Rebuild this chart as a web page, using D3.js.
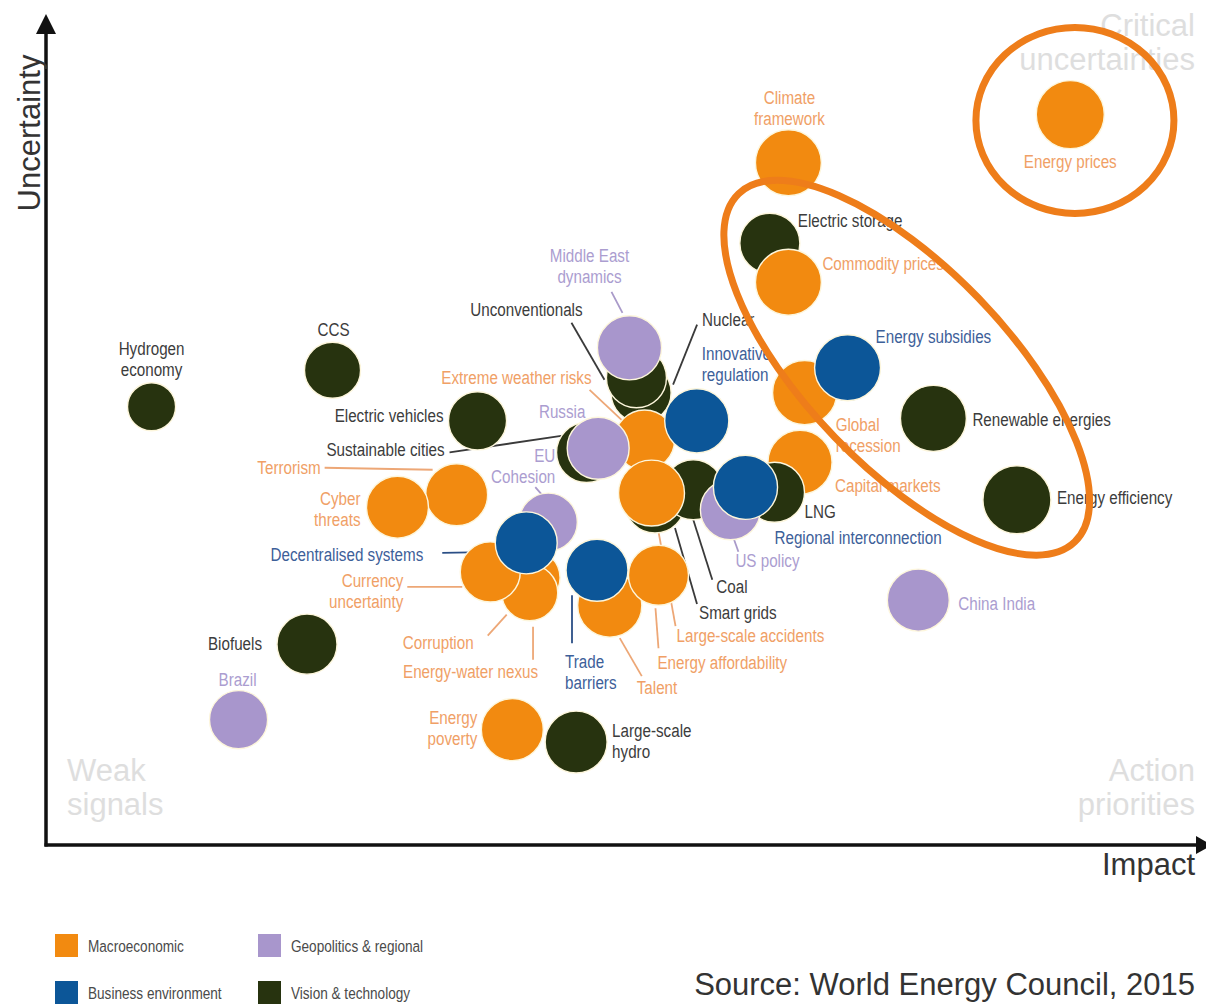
<!DOCTYPE html>
<html>
<head>
<meta charset="utf-8">
<script src="https://cdn.jsdelivr.net/npm/d3@7"></script>
<style>
  html, body { margin: 0; padding: 0; background: #fff; }
  svg { display: block; }
</style>
</head>
<body>
<svg id="chart" width="1206" height="1004"></svg>
<script>
// ---------------- DATA ----------------
const categories = ["Macroeconomic", "Geopolitics & regional", "Business environment", "Vision & technology"];

// issues, in drawing order
const names = [
  "Hydrogen economy", "CCS", "Electric vehicles", "Biofuels", "Brazil", "Energy poverty", "Large-scale hydro",
  "China India", "Energy prices", "Climate framework", "Electric storage", "Commodity prices", "Global recession",
  "Energy subsidies", "Renewable energies", "Energy efficiency", "Nuclear", "Unconventionals", "Middle East dynamics",
  "Extreme weather risks", "Innovative regulation", "Sustainable cities", "Russia", "Smart grids", "Coal",
  "Large-scale accidents", "Capital markets", "LNG", "US policy", "Regional interconnection", "Terrorism",
  "Cyber threats", "EU Cohesion", "Energy-water nexus", "Corruption", "Currency uncertainty",
  "Decentralised systems", "Talent", "Trade barriers", "Energy affordability"
];
// category index of each issue (0 Macro, 1 Geo, 2 Business, 3 Vision)
const group = [
  3, 3, 3, 3, 1, 0, 3,
  1, 0, 0, 3, 0, 0,
  2, 3, 3, 3, 3, 1,
  0, 2, 3, 1, 3, 3,
  0, 0, 3, 1, 2, 0,
  0, 1, 0, 0, 0,
  2, 0, 2, 0
];
// impact (x) 0-100
const impact = [
  9.1, 24.7, 37.2, 22.5, 16.6, 40.2, 45.7,
  75.2, 88.3, 64.0, 62.4, 64.0, 65.4,
  69.1, 76.5, 83.7, 51.3, 50.9, 50.3,
  51.6, 56.1, 46.6, 47.6, 52.5, 55.8,
  52.2, 65.0, 62.8, 59.0, 60.3, 35.4,
  30.3, 43.3, 41.9, 41.7, 38.3,
  41.4, 48.6, 47.5, 52.8
];
// uncertainty (y) 0-100
const uncertainty = [
  52.8, 57.2, 51.1, 24.2, 15.1, 13.9, 12.4,
  29.5, 88.0, 82.2, 72.5, 67.8, 54.5,
  57.5, 51.4, 41.6, 54.5, 56.3, 59.9,
  48.8, 51.1, 47.3, 47.8, 41.2, 42.8,
  42.4, 46.1, 42.5, 40.4, 43.1, 42.2,
  40.7, 38.9, 32.2, 30.4, 32.9,
  36.4, 28.9, 33.1, 32.5
];
// relative weight (bubble area)
const weight = [
  50, 68, 73, 78, 73, 83, 83,
  83, 100, 94, 78, 94, 89,
  94, 94, 100, 78, 78, 89,
  78, 89, 78, 83, 78, 78,
  94, 89, 78, 78, 89, 83,
  83, 73, 68, 68, 78,
  83, 89, 83, 78
];
// highlight rings (centre in data units)
const highlightImpact = [88.7, 74.2];
const highlightUncertainty = [87.3, 57.5];

// ---------------- STYLE / LAYOUT ----------------
const fillColors = ["#f28a10", "#a896cc", "#0c5698", "#27330f"];
const textColors = ["#f0a066", "#ab9dd0", "#3d6099", "#3c3c3c"];
const leaderColors = ["#eda776", "#a99ac9", "#2b4f86", "#3a3a3a"];
const ringStyle = [{rx: 99, ry: 93, rot: 0}, {rx: 242, ry: 100, rot: 46}];

// label layout: offsets from bubble centre (px)
const labelLayout = {
  "Hydrogen economy": {t: ["Hydrogen", "economy"], dx: 0, dy: -58, a: "middle"},
  "CCS": {t: ["CCS"], dx: 1, dy: -41, a: "middle"},
  "Electric vehicles": {t: ["Electric vehicles"], dx: -34, dy: -6, a: "end"},
  "Sustainable cities": {t: ["Sustainable cities"], dx: -142, dy: -3, a: "end", l: [-137, 0, -22, -17]},
  "Terrorism": {t: ["Terrorism"], dx: -136, dy: -27, a: "end", l: [-132, -27, -24, -25]},
  "Cyber threats": {t: ["Cyber", "threats"], dx: -37, dy: -9, a: "end"},
  "Decentralised systems": {t: ["Decentralised systems"], dx: -103, dy: 11, a: "end", l: [-84, 10, -28, 9]},
  "Currency uncertainty": {t: ["Currency", "uncertainty"], dx: -87, dy: 8, a: "end", l: [-83, 15, -28, 15]},
  "Corruption": {t: ["Corruption"], dx: -127, dy: 50, a: "start", l: [-42, 43, -23, 22]},
  "Energy-water nexus": {t: ["Energy-water nexus"], dx: -129, dy: 94, a: "start", l: [1, 49, 1, 82]},
  "Trade barriers": {t: ["Trade", "barriers"], dx: -32, dy: 91, a: "start", l: [-25, 25, -25, 73]},
  "Talent": {t: ["Talent"], dx: 27, dy: 82, a: "start", l: [10, 33, 32, 71]},
  "Energy affordability": {t: ["Energy affordability"], dx: -1, dy: 87, a: "start", l: [-3, 33, 0, 73]},
  "Large-scale accidents": {t: ["Large-scale accidents"], dx: 25, dy: 142, a: "start", l: [6, 33, 24, 133]},
  "Smart grids": {t: ["Smart grids"], dx: 44, dy: 109, a: "start", l: [20, 25, 42, 101]},
  "Coal": {t: ["Coal"], dx: 23, dy: 97, a: "start", l: [0, 30, 19, 90]},
  "US policy": {t: ["US policy"], dx: 5, dy: 51, a: "start", l: [3, 28, 8, 42]},
  "Regional interconnection": {t: ["Regional interconnection"], dx: 29, dy: 50, a: "start"},
  "LNG": {t: ["LNG"], dx: 30, dy: 19, a: "start"},
  "Capital markets": {t: ["Capital markets"], dx: 35, dy: 23, a: "start"},
  "Global recession": {t: ["Global", "recession"], dx: 31, dy: 32, a: "start"},
  "Energy subsidies": {t: ["Energy subsidies"], dx: 28, dy: -31, a: "start"},
  "Renewable energies": {t: ["Renewable energies"], dx: 39, dy: 1, a: "start"},
  "Energy efficiency": {t: ["Energy efficiency"], dx: 40, dy: -2, a: "start"},
  "China India": {t: ["China India"], dx: 40, dy: 3, a: "start"},
  "Innovative regulation": {t: ["Innovative", "regulation"], dx: 5, dy: -68, a: "start"},
  "Nuclear": {t: ["Nuclear"], dx: 61, dy: -73, a: "start", l: [56, -68, 32, -8]},
  "Unconventionals": {t: ["Unconventionals"], dx: -110, dy: -68, a: "middle", l: [-65, -55, -32, 2]},
  "Middle East dynamics": {t: ["Middle East", "dynamics"], dx: -40, dy: -92, a: "middle", l: [-18, -56, -7, -35]},
  "Extreme weather risks": {t: ["Extreme weather risks"], dx: -53, dy: -63, a: "end", l: [-55, -50, -23, -20]},
  "Russia": {t: ["Russia"], dx: -36, dy: -37, a: "middle"},
  "EU Cohesion": {t: ["EU", "Cohesion"], dx: 7, dy: -67, a: "end", l: [-13, -35, -6, -27]},
  "Electric storage": {t: ["Electric storage"], dx: 28, dy: -23, a: "start"},
  "Commodity prices": {t: ["Commodity prices"], dx: 34, dy: -19, a: "start"},
  "Climate framework": {t: ["Climate", "framework"], dx: 1, dy: -65, a: "middle"},
  "Energy prices": {t: ["Energy prices"], dx: 0, dy: 47, a: "middle"},
  "Biofuels": {t: ["Biofuels"], dx: -45, dy: -1, a: "end"},
  "Brazil": {t: ["Brazil"], dx: -1, dy: -40, a: "middle"},
  "Energy poverty": {t: ["Energy", "poverty"], dx: -35, dy: -12, a: "end"},
  "Large-scale hydro": {t: ["Large-scale", "hydro"], dx: 36, dy: -12, a: "start"}
};

const mainFont = "'Liberation Sans', Arial, Helvetica, sans-serif";
const narrow = 0.8; // horizontal squeeze to emulate a condensed face

// ---------------- CHART ----------------
const svg = d3.select("#chart");
const x = d3.scaleLinear().domain([0, 100]).range([46, 1206]);
const y = d3.scaleLinear().domain([0, 100]).range([845, 15]);
const r = d3.scaleSqrt().domain([0, 100]).range([0, 34]);

const data = names.map((n, i) => ({name: n, g: group[i], x: impact[i], y: uncertainty[i], w: weight[i]}));

function condensedText(parent, px, py, lines, anchor, color, size, lh) {
  const t = parent.append("text")
    .attr("transform", `translate(${px},${py}) scale(${narrow},1)`)
    .attr("text-anchor", anchor).attr("fill", color)
    .attr("font-family", mainFont).attr("font-size", size);
  lines.forEach((s, k) => {
    t.append("tspan").attr("x", 0).attr("dy", k === 0 ? "0.35em" : lh).text(s);
  });
  return t;
}

// quadrant captions
const quad = svg.append("g").attr("font-family", mainFont).attr("font-size", 31).attr("fill", "#dedede");
quad.append("text").attr("x", 1195).attr("y", 36).attr("text-anchor", "end").text("Critical");
quad.append("text").attr("x", 1195).attr("y", 70).attr("text-anchor", "end").text("uncertainties");
quad.append("text").attr("x", 67).attr("y", 781).text("Weak");
quad.append("text").attr("x", 67).attr("y", 815).text("signals");
quad.append("text").attr("x", 1195).attr("y", 781).attr("text-anchor", "end").text("Action");
quad.append("text").attr("x", 1195).attr("y", 815).attr("text-anchor", "end").text("priorities");

// axes with arrows
const x0 = x(0), y0 = y(0);
const axes = svg.append("g");
axes.append("line").attr("x1", x0).attr("y1", y0 + 1.5).attr("x2", x0).attr("y2", 30)
  .attr("stroke", "#111").attr("stroke-width", 3.5);
axes.append("path").attr("d", `M${x0},14 L${x0 - 10},34 L${x0 + 10},34 Z`).attr("fill", "#111");
axes.append("line").attr("x1", x0 - 1.5).attr("y1", y0).attr("x2", 1198).attr("y2", y0)
  .attr("stroke", "#111").attr("stroke-width", 3.5);
axes.append("path").attr("d", `M1212,${y0} L1196,${y0 - 9} L1196,${y0 + 9} Z`).attr("fill", "#111");

svg.append("text").attr("transform", `translate(40,133) rotate(-90)`)
  .attr("text-anchor", "middle").attr("font-family", mainFont).attr("font-size", 31).attr("fill", "#333")
  .text("Uncertainty");
svg.append("text").attr("x", 1195).attr("y", 875).attr("text-anchor", "end")
  .attr("font-family", mainFont).attr("font-size", 31).attr("fill", "#333").text("Impact");

// leader lines
const leaders = svg.append("g");
data.forEach(d => {
  const L = labelLayout[d.name];
  if (L && L.l) {
    leaders.append("line")
      .attr("x1", x(d.x) + L.l[0]).attr("y1", y(d.y) + L.l[1])
      .attr("x2", x(d.x) + L.l[2]).attr("y2", y(d.y) + L.l[3])
      .attr("stroke", leaderColors[d.g]).attr("stroke-width", 1.8);
  }
});

// bubbles
svg.append("g").selectAll("circle").data(data).join("circle")
  .attr("cx", d => x(d.x)).attr("cy", d => y(d.y)).attr("r", d => r(d.w))
  .attr("fill", d => fillColors[d.g])
  .attr("stroke", "#fdf6dc").attr("stroke-width", 1.4);

// labels
const lab = svg.append("g");
data.forEach(d => {
  const L = labelLayout[d.name];
  if (!L) return;
  condensedText(lab, x(d.x) + L.dx, y(d.y) + L.dy, L.t, L.a, textColors[d.g], 19, 21);
});

// highlight rings
svg.append("g").selectAll("ellipse").data(ringStyle).join("ellipse")
  .attr("transform", (s, i) => `translate(${x(highlightImpact[i])},${y(highlightUncertainty[i])}) rotate(${s.rot})`)
  .attr("rx", s => s.rx).attr("ry", s => s.ry)
  .attr("fill", "none").attr("stroke", "#ee7d1a").attr("stroke-width", 7);

// legend
const legendPos = [[55, 934], [258, 934], [55, 981], [258, 981]];
const leg = svg.append("g");
categories.forEach((c, i) => {
  const [lx, ly] = legendPos[i];
  leg.append("rect").attr("x", lx).attr("y", ly).attr("width", 23).attr("height", 23).attr("fill", fillColors[i]);
  condensedText(leg, lx + 33, ly + 12, [c], "start", "#4a4a4a", 17, 18);
});

svg.append("text").attr("x", 1195).attr("y", 995).attr("text-anchor", "end")
  .attr("font-family", mainFont).attr("font-size", 31).attr("fill", "#333")
  .text("Source: World Energy Council, 2015");
</script>
</body>
</html>
